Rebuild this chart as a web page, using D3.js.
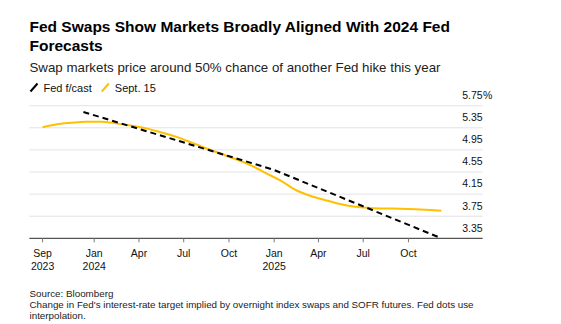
<!DOCTYPE html>
<html>
<head>
<meta charset="utf-8">
<script src="https://cdn.jsdelivr.net/npm/d3@7"></script>
<style>
  body { margin: 0; background: #fff; }
  text { font-family: "Liberation Sans", Arial, sans-serif; }
</style>
</head>
<body>
<script>
var w = 561;
var h = 324;

// Fed dot plot path (interpolated) and swap-implied path as of Sept. 15
var fedDates = ["2023-12-10", "2024-12-31", "2025-12-07"];
var fedValues = [5.636, 4.59, 3.35];

var swapDates = ["2023-09-18", "2023-10-15", "2023-11-15", "2023-12-15", "2024-01-15",
                 "2024-02-15", "2024-03-15", "2024-04-15", "2024-05-15", "2024-06-15",
                 "2024-07-15", "2024-08-15", "2024-09-15", "2024-10-15", "2024-11-15",
                 "2024-12-15", "2025-01-15", "2025-02-15", "2025-03-15", "2025-04-15",
                 "2025-05-15", "2025-06-15", "2025-07-15", "2025-08-15", "2025-09-15",
                 "2025-10-15", "2025-11-15", "2025-12-07"];
var swapValues = [5.36, 5.41, 5.44, 5.46, 5.46,
                  5.43, 5.39, 5.34, 5.27, 5.19,
                  5.09, 4.98, 4.88, 4.78, 4.67,
                  4.53, 4.39, 4.22, 4.12, 4.04,
                  3.97, 3.92, 3.90, 3.89, 3.885,
                  3.875, 3.86, 3.85];

var yTicks = [3.35, 3.75, 4.15, 4.55, 4.95, 5.35, 5.75];
var xTickDates = ["2023-09-18", "2024-01-01", "2024-04-01", "2024-07-01", "2024-10-01",
                  "2025-01-01", "2025-04-01", "2025-07-01", "2025-10-01"];
var xTickLabels = [["Sep", "2023"], ["Jan", "2024"], ["Apr"], ["Jul"], ["Oct"],
                   ["Jan", "2025"], ["Apr"], ["Jul"], ["Oct"]];

var parse = d3.timeParse("%Y-%m-%d");

var svg = d3.select("body")
            .append("svg")
                .attr("width", w)
                .attr("height", h);

var x = d3.scaleTime()
    .domain([parse("2023-08-22"), parse("2026-03-01")])
    .range([29.3, 482.7]);

var y = d3.scaleLinear()
    .domain([3.35, 5.75])
    .range([238.3, 105.7]);

// headings
svg.append("text")
    .attr("x", 29.5).attr("y", 31.5)
    .attr("font-size", 15.5).attr("font-weight", "bold").attr("fill", "#000")
    .text("Fed Swaps Show Markets Broadly Aligned With 2024 Fed");
svg.append("text")
    .attr("x", 29.5).attr("y", 51)
    .attr("font-size", 15.5).attr("font-weight", "bold").attr("fill", "#000")
    .text("Forecasts");
svg.append("text")
    .attr("x", 29.5).attr("y", 72)
    .attr("font-size", 13.3).attr("fill", "#222")
    .text("Swap markets price around 50% chance of another Fed hike this year");

// legend
var legend = [{label: "Fed f/cast", color: "#000", x: 30.5}, {label: "Sept. 15", color: "#ffc000", x: 101.8}];
legend.forEach(function(d) {
    svg.append("line")
        .attr("x1", d.x).attr("y1", 91.5)
        .attr("x2", d.x + 7).attr("y2", 83.5)
        .attr("stroke", d.color).attr("stroke-width", 2);
    svg.append("text")
        .attr("x", d.x + 13).attr("y", 91.5)
        .attr("font-size", 11).attr("fill", "#111")
        .text(d.label);
});

// gridlines + y labels
svg.selectAll("line.grid")
    .data(yTicks.slice(1))
    .enter()
    .append("line")
        .attr("class", "grid")
        .attr("x1", 29.3).attr("x2", 482.7)
        .attr("y1", function(d) {return y(d);})
        .attr("y2", function(d) {return y(d);})
        .attr("stroke", "#e3e3e3").attr("stroke-width", 1);

svg.selectAll("text.ylab")
    .data(yTicks)
    .enter()
    .append("text")
        .attr("class", "ylab")
        .attr("x", 482.7)
        .attr("y", function(d) {return y(d) - 6.7;})
        .attr("text-anchor", "end")
        .attr("font-size", 10.5).attr("fill", "#111")
        .text(function(d) {return d.toFixed(2);});

svg.append("text")
    .attr("x", 483).attr("y", y(5.75) - 6.7)
    .attr("font-size", 10.5).attr("fill", "#111")
    .text("%");

// x axis
svg.append("line")
    .attr("x1", 29.3).attr("x2", 482.7)
    .attr("y1", y(3.35)).attr("y2", y(3.35))
    .attr("stroke", "#555").attr("stroke-width", 1.2);

var xt = svg.selectAll("g.xtick")
    .data(xTickDates)
    .enter()
    .append("g")
        .attr("class", "xtick")
        .attr("transform", function(d) {return "translate(" + x(parse(d)) + ",0)";});

xt.append("line")
    .attr("y1", y(3.35)).attr("y2", y(3.35) + 4)
    .attr("stroke", "#777").attr("stroke-width", 1);

xt.append("text")
    .attr("text-anchor", "middle")
    .attr("font-size", 10.5).attr("fill", "#111")
    .selectAll("tspan")
    .data(function(d, i) {return xTickLabels[i];})
    .enter()
    .append("tspan")
        .attr("x", 0)
        .attr("y", function(d, i) {return 256.5 + i * 13.5;})
        .text(function(d) {return d;});

// lines
var swapLine = d3.line()
    .x(function(d, i) {return x(parse(swapDates[i]));})
    .y(function(d) {return y(d);})
    .curve(d3.curveMonotoneX);

svg.append("path")
    .datum(swapValues)
    .attr("d", swapLine)
    .attr("fill", "none")
    .attr("stroke", "#ffc000")
    .attr("stroke-width", 2);

var fedLine = d3.line()
    .x(function(d, i) {return x(parse(fedDates[i]));})
    .y(function(d) {return y(d);});

svg.append("path")
    .datum(fedValues)
    .attr("d", fedLine)
    .attr("fill", "none")
    .attr("stroke", "#000")
    .attr("stroke-width", 2)
    .attr("stroke-dasharray", "6,4");

// footer
var notes = ["Source: Bloomberg",
             "Change in Fed's interest-rate target implied by overnight index swaps and SOFR futures. Fed dots use",
             "interpolation."];
svg.selectAll("text.note")
    .data(notes)
    .enter()
    .append("text")
        .attr("class", "note")
        .attr("x", 29.5)
        .attr("y", function(d, i) {return 297 + i * 11.2;})
        .attr("font-size", 9.8).attr("fill", "#222")
        .text(function(d) {return d;});
</script>
</body>
</html>
